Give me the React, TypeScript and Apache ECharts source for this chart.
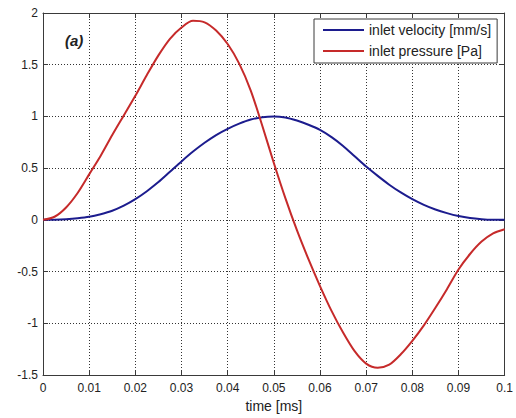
import React, { useEffect, useRef } from "react";
import * as echarts from "echarts";

const time = [
  0, 0.0025, 0.005, 0.0075, 0.01, 0.0125, 0.015, 0.0175, 0.02, 0.0225, 0.025, 0.0275,
  0.03, 0.0325, 0.035, 0.0375, 0.04, 0.0425, 0.045, 0.0475, 0.05, 0.0525, 0.055, 0.0575,
  0.06, 0.0625, 0.065, 0.0675, 0.07, 0.0725, 0.075, 0.0775, 0.08, 0.0825, 0.085, 0.0875,
  0.09, 0.0925, 0.095, 0.0975, 0.1,
];

const velocity = [
  0, 0.002, 0.007, 0.016, 0.03, 0.055, 0.088, 0.137, 0.2, 0.277, 0.365, 0.465,
  0.565, 0.66, 0.745, 0.82, 0.88, 0.93, 0.97, 0.993, 1.0, 0.99, 0.96, 0.92,
  0.87, 0.8, 0.715, 0.615, 0.515, 0.425, 0.34, 0.265, 0.2, 0.145, 0.1, 0.065,
  0.037, 0.018, 0.007, 0.001, 0,
];

const pressure = [
  0, 0.03, 0.12, 0.26, 0.44, 0.62, 0.82, 1.01, 1.2, 1.4, 1.59, 1.75,
  1.86, 1.925, 1.91, 1.83, 1.7, 1.51, 1.25, 0.91, 0.55, 0.21, -0.1, -0.38,
  -0.64, -0.88, -1.09, -1.27, -1.39, -1.43, -1.4, -1.3, -1.17, -1.02, -0.85, -0.67,
  -0.48, -0.33, -0.21, -0.13, -0.09,
];

const seriesNames = ["inlet velocity [mm/s]", "inlet pressure [Pa]"];
const seriesColors = ["#1c1c8e", "#c62a2a"];
const xTitle = "time [ms]";
const panelLabel = "(a)";

const FONT = "'Liberation Sans', Arial, sans-serif";
const FRAME = "#3a3a3a";
const GRID = "#333333";
// thin horizontal bar centred in a 41x14 box (tiny corner specks fix the bounding box)
const LINE_ICON =
  "path://M0,0L0.01,0L0,0.01Z M0,6L41,6L41,8L0,8Z M41,14L40.99,14L41,13.99Z";

export default function App() {
  const ref = useRef<HTMLDivElement>(null);

  useEffect(() => {
    if (!ref.current) return;
    const chart = echarts.init(ref.current, undefined, { renderer: "svg" });

    const zip = (ys: number[]) => time.map((t, i) => [t, ys[i]]);

    const commonX = {
      type: "value" as const,
      min: 0,
      max: 0.1,
      interval: 0.01,
    };
    const commonY = {
      type: "value" as const,
      min: -1.5,
      max: 2,
      interval: 0.5,
    };

    chart.setOption({
      animation: false,
      backgroundColor: "#ffffff",
      textStyle: { fontFamily: FONT },
      grid: { left: 43, right: 10, top: 13, bottom: 42, containLabel: false },
      xAxis: [
        {
          ...commonX,
          position: "bottom",
          name: xTitle,
          nameLocation: "middle",
          nameGap: 24,
          nameTextStyle: { fontSize: 14, color: "#222", fontFamily: FONT },
          axisLine: { show: true, onZero: false, lineStyle: { color: FRAME, width: 1 } },
          axisTick: { show: true, inside: true, length: 5, lineStyle: { color: FRAME } },
          axisLabel: { show: true, margin: 7, fontSize: 12, color: "#222", fontFamily: FONT },
          splitLine: { show: true, lineStyle: { color: GRID, type: [1, 2], width: 1 } },
        },
        {
          ...commonX,
          position: "top",
          axisLine: { show: true, onZero: false, lineStyle: { color: FRAME, width: 1 } },
          axisTick: { show: true, inside: true, length: 5, lineStyle: { color: FRAME } },
          axisLabel: { show: false },
          splitLine: { show: false },
        },
      ],
      yAxis: [
        {
          ...commonY,
          position: "left",
          axisLine: { show: true, onZero: false, lineStyle: { color: FRAME, width: 1 } },
          axisTick: { show: true, inside: true, length: 5, lineStyle: { color: FRAME } },
          axisLabel: { show: true, margin: 5, fontSize: 12, color: "#222", fontFamily: FONT },
          splitLine: { show: true, lineStyle: { color: GRID, type: [1, 2], width: 1 } },
        },
        {
          ...commonY,
          position: "right",
          axisLine: { show: true, onZero: false, lineStyle: { color: FRAME, width: 1 } },
          axisTick: { show: true, inside: true, length: 5, lineStyle: { color: FRAME } },
          axisLabel: { show: false },
          splitLine: { show: false },
        },
      ],
      legend: {
        orient: "vertical",
        left: 314,
        top: 19,
        padding: [4, 6, 5, 9],
        itemWidth: 41,
        itemHeight: 14,
        itemGap: 7,
        backgroundColor: "#ffffff",
        borderColor: FRAME,
        borderWidth: 1,
        borderRadius: 0,
        textStyle: { fontSize: 14, color: "#222", fontFamily: FONT },
        data: seriesNames.map((name) => ({ name, icon: LINE_ICON })),
      },
      graphic: [
        {
          type: "text",
          left: 65,
          top: 33,
          style: {
            text: panelLabel,
            font: `italic bold 15px ${FONT}`,
            fill: "#222",
          },
        },
      ],
      series: seriesNames.map((name, i) => ({
        name,
        type: "line",
        data: zip(i === 0 ? velocity : pressure),
        smooth: 0.3,
        symbol: "none",
        lineStyle: { color: seriesColors[i], width: 2 },
        itemStyle: { color: seriesColors[i] },
      })),
    });

    return () => chart.dispose();
  }, []);

  return (
    <div
      ref={ref}
      style={{ position: "fixed", left: 0, top: 0, width: 516, height: 418 }}
    />
  );
}
